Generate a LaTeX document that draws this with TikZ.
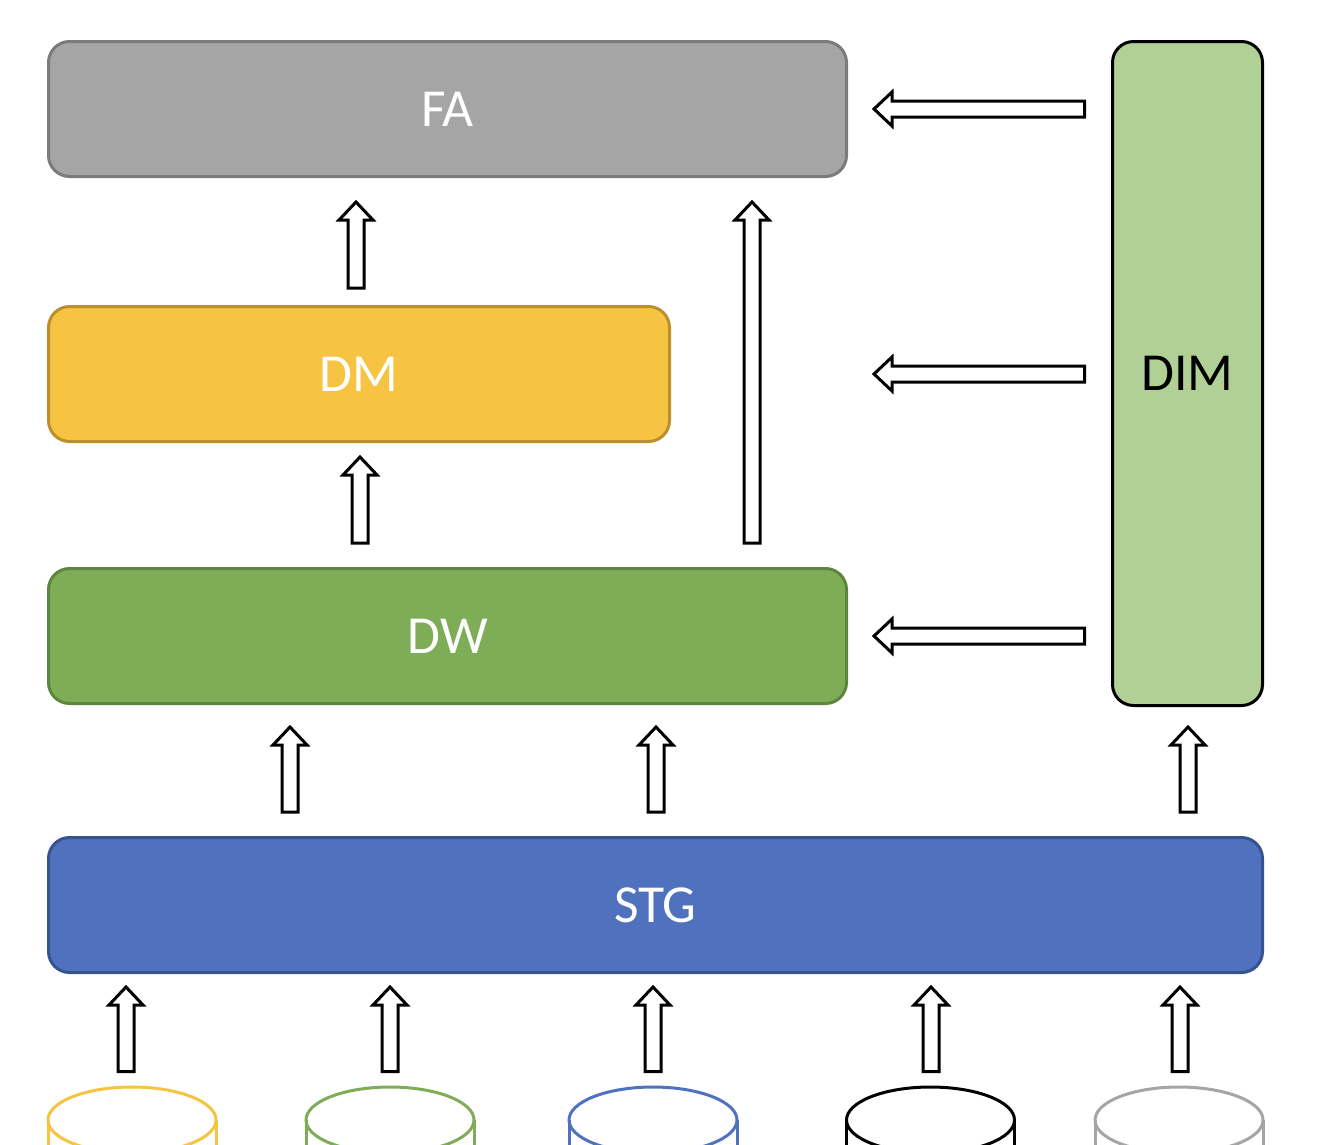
\documentclass[tikz,border=0pt]{standalone}
\usepackage{fontspec}
\setmainfont{Carlito}
\usetikzlibrary{calc}
\definecolor{faFill}{HTML}{A5A5A5}
\definecolor{faLine}{HTML}{7B7B7B}
\definecolor{dmFill}{HTML}{F6C342}
\definecolor{dmLine}{HTML}{BC8F2B}
\definecolor{dwFill}{HTML}{7FAC57}
\definecolor{dwLine}{HTML}{5E8540}
\definecolor{stgFill}{HTML}{4F71BE}
\definecolor{stgLine}{HTML}{36538F}
\definecolor{dimFill}{HTML}{B1D095}
\tikzset{
  layer/.style={draw,line width=3pt,rounded corners=21pt,anchor=north west,inner sep=0pt,
    text=white,font=\fontsize{53.5}{60}\selectfont},
  hollow/.style={draw=black,fill=white,line width=3pt,miter limit=10},
  drum/.style={line width=3pt}
}
% block arrow from #1 to #2
\newcommand{\blockarrow}[2]{
  \draw[hollow] ($(#1)!8pt!90:(#2)$) -- ($(#2)!18pt!(#1)!8pt!-90:(#1)$)
    -- ($(#2)!18pt!(#1)!17pt!-90:(#1)$) -- (#2)
    -- ($(#2)!18pt!(#1)!17pt!90:(#1)$) -- ($(#2)!18pt!(#1)!8pt!90:(#1)$)
    -- ($(#1)!8pt!-90:(#2)$) -- cycle;
}
\begin{document}
\begin{tikzpicture}[x=1pt,y=-1pt]
  \clip (0,0) rectangle (1322,1144);
  \node[layer,fill=faFill,draw=faLine,minimum width=798pt,minimum height=135pt] (fa) at (47,40) {FA};
  \node[layer,fill=dmFill,draw=dmLine,minimum width=621pt,minimum height=135pt] (dm) at (47,305) {DM};
  \node[layer,fill=dwFill,draw=dwLine,minimum width=798pt,minimum height=135pt] (dw) at (47,567) {DW};
  \node[layer,fill=stgFill,draw=stgLine,minimum width=1214pt,minimum height=135pt] (stg) at (47,836) {STG};
  \node[layer,fill=dimFill,draw=black,text=black,minimum width=150pt,minimum height=664pt] (dim) at (1111,40) {DIM};
  % sources
  \foreach \x/\c in {132/dmFill,390/dwFill,653/stgFill,930.5/black,1179/faFill}{
    \draw[drum,draw=\c] (\x,1120) ellipse (84 and 33);
    \draw[drum,draw=\c] (\x-84,1120) -- ++(0,40) (\x+84,1120) -- ++(0,40);
  }
  % up arrows
  \foreach \x in {126,390,653,931,1180}{
    \coordinate (a\x) at (\x,1071.5);
    \coordinate (b\x) at (\x,987);
    \blockarrow{a\x}{b\x}
  }
  \foreach \x in {290,656,1188}{
    \coordinate (a\x) at (\x,812);
    \coordinate (b\x) at (\x,727);
    \blockarrow{a\x}{b\x}
  }
  \coordinate (dmout) at (356,288);
  \coordinate (fain) at (356,202);
  \blockarrow{dmout}{fain}
  \coordinate (dwout) at (360,543);
  \coordinate (dmin) at (360,457);
  \blockarrow{dwout}{dmin}
  \coordinate (dwfa) at (752,543);
  \coordinate (fadw) at (752,202);
  \blockarrow{dwfa}{fadw}
  % dim arrows
  \foreach \y in {109,374,636}{
    \coordinate (c\y) at (1084.5,\y);
    \coordinate (d\y) at (874,\y);
    \blockarrow{c\y}{d\y}
  }
\end{tikzpicture}
\end{document}
